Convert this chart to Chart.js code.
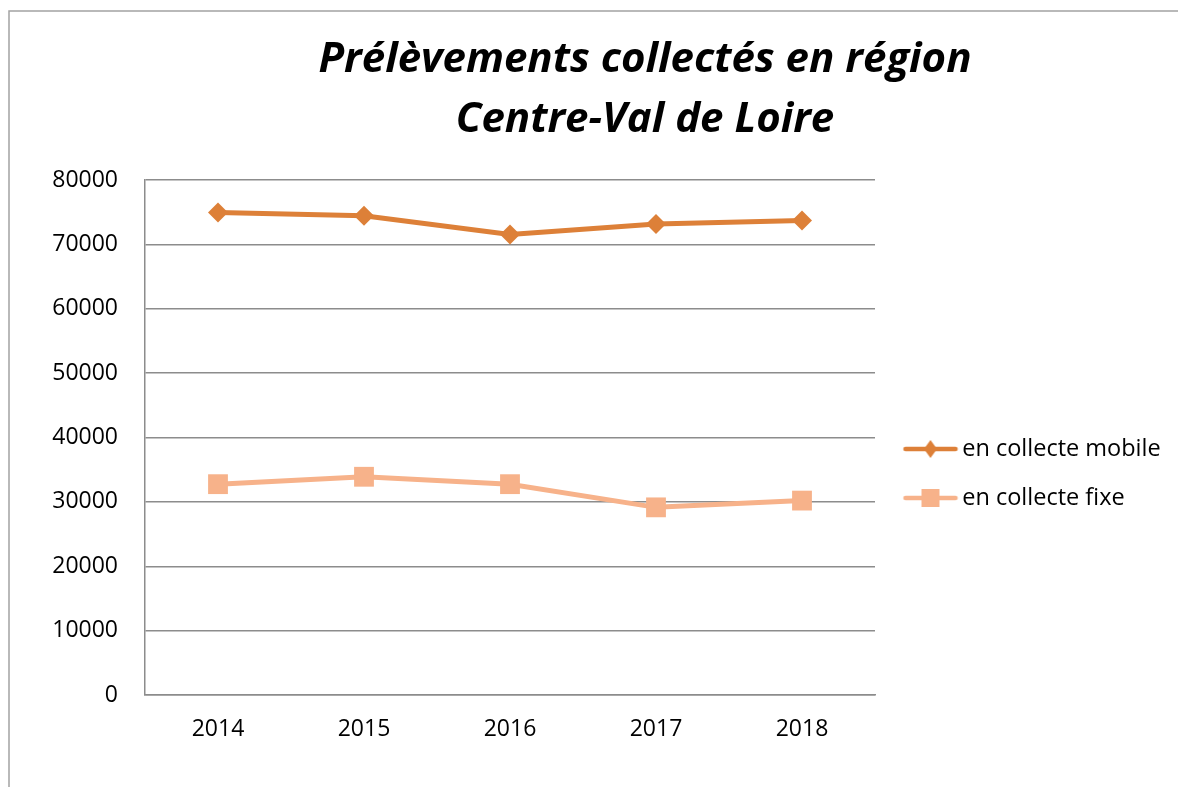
<!DOCTYPE html>
<html>
<head>
<meta charset="utf-8">
<script src="https://cdn.jsdelivr.net/npm/chart.js@4.4.0/dist/chart.umd.min.js"></script>
<style>
  html, body { margin: 0; padding: 0; overflow: hidden; background: #fff; }
  canvas { display: block; }
</style>
</head>
<body>
<canvas id="chart"></canvas>
<script>
// Data
const years = ['2014', '2015', '2016', '2017', '2018'];
const mobileValues = [74950, 74450, 71550, 73150, 73700];
const fixeValues = [32750, 33900, 32750, 29150, 30200];
const seriesLabels = ['en collecte mobile', 'en collecte fixe'];
const titleLines = ['Prélèvements collectés en région', 'Centre-Val de Loire'];
const yMin = 0;
const yMax = 80000;
const yStep = 10000;

// Look
const FONT = '"Open Sans", sans-serif';
const mobileColor = '#DD8038';
const fixeColor = '#F7B28A';
const gridColor = '#8c8c8c';
const tickSize = 23;
const legendSize = 23.5;
const titleSize = 42;

// Layout (page pixels). The chart object is wider and taller than the window,
// like the original which is cut off on the right and at the bottom.
const plotLeft = 145, plotRight = 875, plotBottom = 695;
const titleCenterX = 645;
const legendPad = 25.5, legendBoxW = 50;
const canvasW = 2 * titleCenterX;
const canvasH = 947;

const measure = document.createElement('canvas').getContext('2d');
measure.font = `${legendSize}px ${FONT}`;
const legendTextW = Math.max(...seriesLabels.map(t => measure.measureText(t).width));
const legendW = legendPad + legendBoxW + legendSize / 2 + legendTextW + 10;
// empty space right of the legend so the title stays centred on the whole object
const rightSpace = canvasW - plotRight - legendW;

function makeLegendIcon(color, shape) {
  const icon = document.createElement('canvas');
  icon.width = 66; icon.height = 22;
  const c = icon.getContext('2d');
  c.strokeStyle = color; c.fillStyle = color;
  c.lineWidth = 4.5; c.lineCap = 'round';
  c.beginPath(); c.moveTo(13, 11); c.lineTo(63, 11); c.stroke();
  c.beginPath();
  if (shape === 'diamond') {
    c.moveTo(38, 2); c.lineTo(44.5, 11); c.lineTo(38, 20); c.lineTo(31.5, 11); c.closePath();
  } else {
    c.rect(29, 2, 18, 18);
  }
  c.fill();
  return icon;
}
const legendIcons = [makeLegendIcon(mobileColor, 'diamond'), makeLegendIcon(fixeColor, 'square')];

// outer frame of the chart object (right and bottom edges fall outside the window)
const framePlugin = {
  id: 'frame',
  beforeDraw(chart) {
    const ctx = chart.ctx;
    ctx.save();
    ctx.strokeStyle = '#a3a3a3';
    ctx.lineWidth = 1.5;
    ctx.beginPath();
    ctx.moveTo(9, chart.height);
    ctx.lineTo(9, 11);
    ctx.lineTo(chart.width, 11);
    ctx.stroke();
    ctx.restore();
  }
};

const canvas = document.getElementById('chart');
canvas.width = canvasW;
canvas.height = canvasH;

new Chart(canvas, {
  type: 'line',
  data: {
    labels: years,
    datasets: [
      {
        label: seriesLabels[0],
        data: mobileValues,
        borderColor: mobileColor,
        backgroundColor: mobileColor,
        borderWidth: 5,
        pointStyle: 'rectRot',
        pointRadius: 10,
        pointBorderWidth: 0,
        tension: 0
      },
      {
        label: seriesLabels[1],
        data: fixeValues,
        borderColor: fixeColor,
        backgroundColor: fixeColor,
        borderWidth: 5,
        pointStyle: 'rect',
        pointRadius: 14,
        pointBorderWidth: 0,
        tension: 0
      }
    ]
  },
  options: {
    responsive: false,
    animation: false,
    devicePixelRatio: 1,
    layout: { padding: 0 },
    plugins: {
      title: {
        display: true,
        text: titleLines,
        color: '#000',
        font: { family: FONT, size: titleSize, weight: 'bold', style: 'italic', lineHeight: 60 / titleSize },
        padding: { top: 30, bottom: 30 }
      },
      legend: {
        position: 'right',
        maxWidth: 500,
        labels: {
          usePointStyle: true,
          pointStyleWidth: legendBoxW,
          padding: legendPad,
          color: '#000',
          font: { family: FONT, size: legendSize },
          generateLabels(chart) {
            return chart.data.datasets.map((ds, i) => ({
              text: ds.label,
              pointStyle: legendIcons[i],
              fillStyle: ds.borderColor,
              strokeStyle: ds.borderColor,
              lineWidth: 0,
              fontColor: '#000',
              hidden: false,
              datasetIndex: i
            }));
          }
        }
      },
      tooltip: { enabled: false }
    },
    scales: {
      x: {
        offset: true,
        grid: { display: false, drawTicks: false },
        border: { display: true, color: gridColor, width: 1.5 },
        ticks: { color: '#000', padding: 21, font: { family: FONT, size: tickSize } },
        afterFit(scale) { scale.height = canvasH - plotBottom; }
      },
      y: {
        min: yMin,
        max: yMax,
        grid: { color: gridColor, lineWidth: 1.5, drawTicks: false },
        border: { display: true, color: gridColor, width: 1.5 },
        ticks: {
          stepSize: yStep,
          color: '#000',
          padding: 27,
          font: { family: FONT, size: tickSize },
          callback: v => String(v)
        },
        afterFit(scale) { scale.width = plotLeft; }
      },
      // blank box placed outside the legend (weight > legend's 1000)
      spacer: {
        type: 'linear',
        position: 'right',
        weight: 2000,
        grid: { display: false, drawTicks: false },
        border: { display: false },
        ticks: { display: false },
        afterFit(scale) { scale.width = rightSpace; }
      }
    }
  },
  plugins: [framePlugin]
});
</script>
</body>
</html>
